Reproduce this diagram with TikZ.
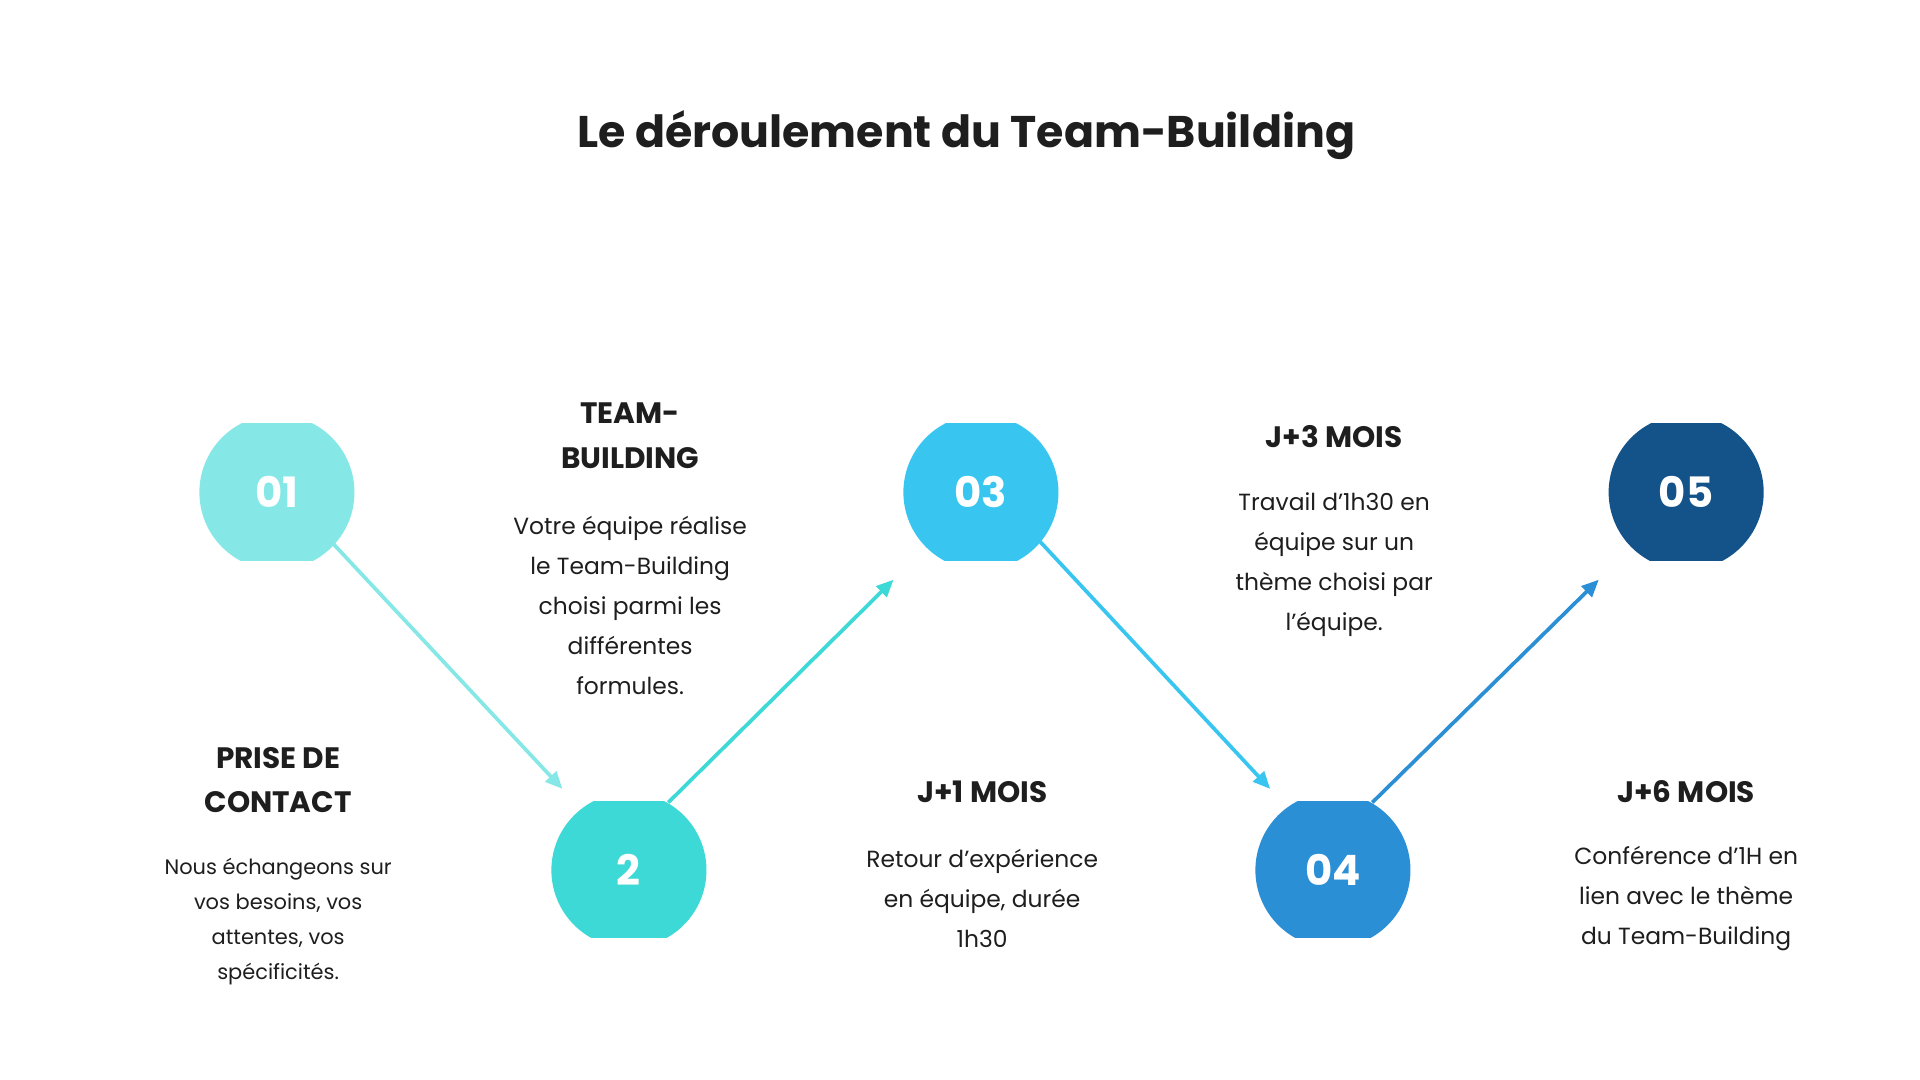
\documentclass[tikz,border=0pt]{standalone}
\usepackage{fontspec}
\setmainfont{Poppins}
\usetikzlibrary{arrows.meta}
\definecolor{c1}{HTML}{86E8E6}
\definecolor{c2}{HTML}{3DD9D6}
\definecolor{c3}{HTML}{38C6F0}
\definecolor{c4}{HTML}{2B8FD6}
\definecolor{c5}{HTML}{14538A}
\definecolor{tx}{HTML}{1E1E1E}
\tikzset{
  num/.style={font=\bfseries\fontsize{34}{40}\selectfont, text=white},
  head/.style={font=\bfseries\fontsize{24}{36}\selectfont, text=tx, align=center},
  body/.style={font=\fontsize{19}{32.5}\selectfont, text=tx, align=center},
  bodys/.style={font=\fontsize{17}{28.5}\selectfont, text=tx, align=center},
  arr/.style={line width=3pt, -{Triangle[length=14pt,width=12pt]}}
}
\newcommand{\blob}[4]{%
  \begin{scope}
    \clip (#1-70,344) rectangle (#1+70,455);
    \fill[#3] (#1,#2) circle (63);
  \end{scope}
  \node[num] (#4) at (#1,#2) {};}
\begin{document}
\begin{tikzpicture}[x=1pt,y=-1pt]
\useasboundingbox[fill=white] (0,0) rectangle (1560,877.5);
\node[font=\bfseries\fontsize{36}{40}\selectfont, text=tx] (title) at (785,110) {Le déroulement du Team-Building};
% circles
\begin{scope}\clip (150,344) rectangle (300,455); \fill[c1] (225,400) circle (63);\end{scope}
\begin{scope}\clip (436,651) rectangle (586,762); \fill[c2] (511,707) circle (63);\end{scope}
\begin{scope}\clip (722,344) rectangle (872,455); \fill[c3] (797,400) circle (63);\end{scope}
\begin{scope}\clip (1008,651) rectangle (1158,762); \fill[c4] (1083,707) circle (63);\end{scope}
\begin{scope}\clip (1295,344) rectangle (1445,455); \fill[c5] (1370,400) circle (63);\end{scope}
\node[num] (n1) at (225,400) {01};
\node[num] (n2) at (511,707) {2};
\node[num] (n3) at (797,400) {03};
\node[num] (n4) at (1083,707) {04};
\node[num] (n5) at (1370,400) {05};
% arrows
\coordinate (a1s) at (270,441); \coordinate (a1e) at (457,641);
\coordinate (a2s) at (543,652); \coordinate (a2e) at (726,471);
\coordinate (a3s) at (845,440); \coordinate (a3e) at (1032,641);
\coordinate (a4s) at (1115,652); \coordinate (a4e) at (1299,471);
\draw[arr, c1] (a1s) -- (a1e);
\draw[arr, c2] (a2s) -- (a2e);
\draw[arr, c3] (a3s) -- (a3e);
\draw[arr, c4] (a4s) -- (a4e);
% texts
\node[head] (h1) at (226,634) {PRISE DE\\CONTACT};
\node[bodys] (b1) at (226,749) {Nous échangeons sur\\vos besoins, vos\\attentes, vos\\spécificités.};
\node[head] (h2) at (512,354) {TEAM-\\BUILDING};
\node[body] (b2) at (512,492) {Votre équipe réalise\\le Team-Building\\choisi parmi les\\différentes\\formules.};
\node[head] (h3) at (798,643) {J+1 MOIS};
\node[body] (b3) at (798,730) {Retour d’expérience\\en équipe, durée\\1h30};
\node[head] (h4) at (1084,355) {J+3 MOIS};
\node[body] (b4) at (1084,459) {Travail d’1h30 en\\équipe sur un\\thème choisi par\\l’équipe.};
\node[head] (h5) at (1370,643) {J+6 MOIS};
\node[body] (b5) at (1370,730) {Conférence d’1H en\\lien avec le thème\\du Team-Building};
\end{tikzpicture}
\end{document}
